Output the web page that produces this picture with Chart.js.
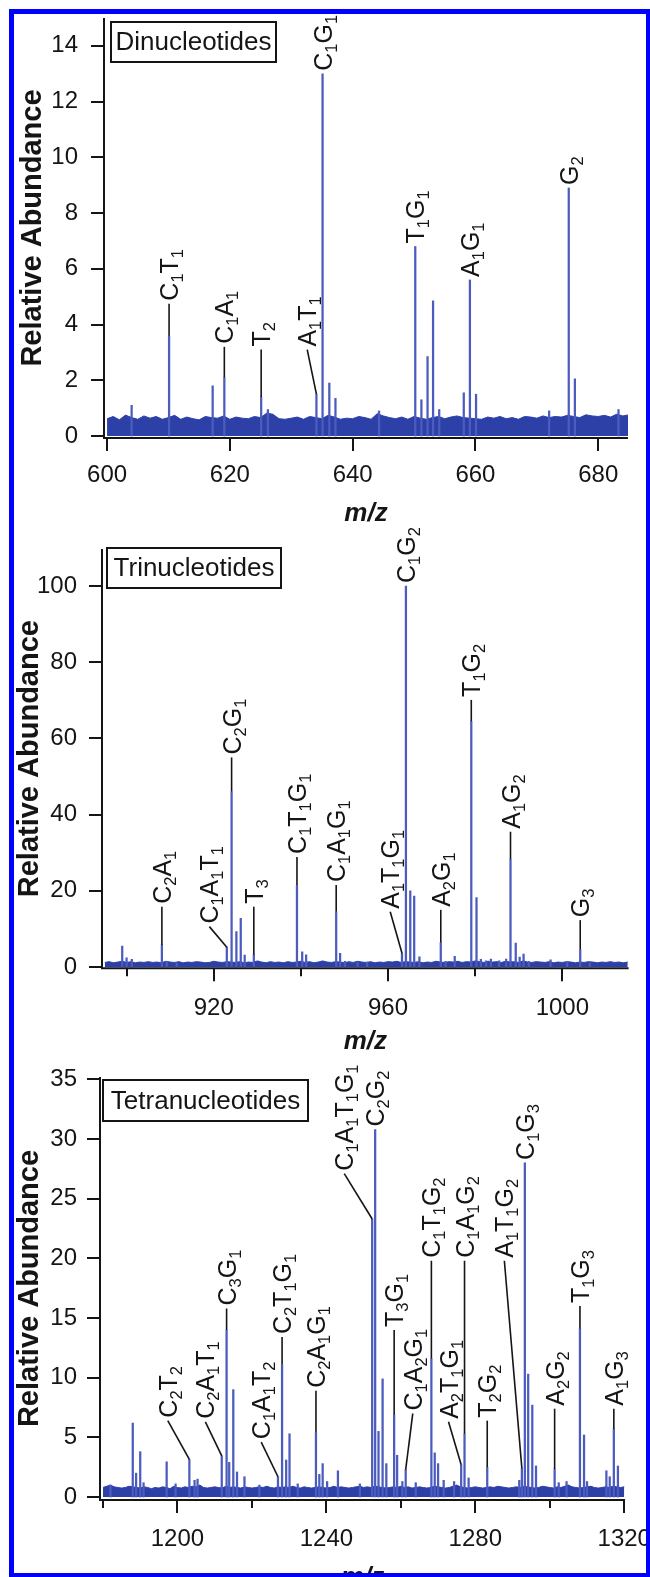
<!DOCTYPE html>
<html>
<head>
<meta charset="utf-8">
<script src="https://cdn.jsdelivr.net/npm/chart.js@4.4.1/dist/chart.umd.min.js"></script>
<style>
    body { margin: 0; width: 650px; height: 1577px; overflow: hidden; background: #fff; position: relative; }
    canvas { position: absolute; left: 0; top: 0; }
    #frame { position: absolute; left: 9px; top: 9px; width: 642px; height: 1569px; box-sizing: border-box; border: 5px solid #0000ff; z-index: 5; }
</style>
</head>
<body>
<canvas id="chart1" width="650" height="1620"></canvas>
<canvas id="chart2" width="650" height="1620"></canvas>
<canvas id="chart3" width="650" height="1620"></canvas>
<div id="frame"></div>
<script>
// ---- Dinucleotides ----
const peaks1Mz = [604.0, 610.1, 617.2, 619.1, 625.1, 626.2, 634.1, 635.1, 636.2, 637.2, 644.3, 650.2, 651.2, 652.2, 653.1, 654.1, 658.1, 659.1, 660.1, 672.0, 675.2, 676.2, 683.3];
const peaks1H = [1.1, 3.6, 1.8, 2.1, 1.4, 0.95, 1.5, 13.0, 1.9, 1.35, 0.9, 6.8, 1.3, 2.85, 4.85, 0.95, 1.55, 5.6, 1.5, 0.9, 8.9, 2.05, 0.95];
const noise1Start = 600;
const noise1 = [
    0.62, 0.7, 0.58, 0.75, 0.66, 0.6, 0.72, 0.64, 0.7, 0.6,
    0.66, 0.74, 0.6, 0.68, 0.62, 0.58, 0.7, 0.66, 0.64, 0.72,
    0.6, 0.68, 0.64, 0.62, 0.7, 0.66, 0.82, 0.78, 0.62, 0.6,
    0.64, 0.68, 0.6, 0.7, 0.66, 0.62, 0.74, 0.68, 0.6, 0.64,
    0.62, 0.7, 0.66, 0.6, 0.8, 0.72, 0.66, 0.62, 0.68, 0.6,
    0.7, 0.64, 0.6, 0.66, 0.7, 0.62, 0.68, 0.72, 0.66, 0.64,
    0.62, 0.6, 0.68, 0.64, 0.7, 0.62, 0.66, 0.6, 0.7, 0.68,
    0.64, 0.72, 0.66, 0.7, 0.68, 0.74, 0.7, 0.66, 0.76, 0.72,
    0.7, 0.74, 0.68, 0.78, 0.72, 0.76
];
const lab1Text = ['C1T1', 'C1A1', 'T2', 'A1T1', 'C1G1', 'T1G1', 'A1G1', 'G2'];
const lab1Mz = [610.1, 619.1, 625.1, 634.1, 635.1, 650.2, 659.1, 675.2];
const lab1TopMz = [610.1, 619.1, 625.1, 632.6, 635.1, 650.2, 659.1, 675.2];
const lab1TopY = [4.75, 3.2, 3.1, 3.1, 13.0, 6.8, 5.6, 8.9];

// ---- Trinucleotides ----
const peaks2Mz = [899.0, 900.0, 901.2, 908.1, 909.2, 911.5, 923.0, 924.1, 925.2, 926.2, 927.1, 929.2, 939.1, 940.3, 941.2, 948.1, 949.0, 950.1, 953.0, 955.2,
    963.2, 964.1, 965.1, 966.0, 967.2, 972.1, 973.2, 975.3, 979.1, 980.3, 981.3, 982.5, 983.6, 985.5, 987.1, 988.1, 989.3, 990.2, 991.1, 992.3, 997.3, 1001.1, 1004.1, 1006.3];
const peaks2H = [5.5, 2.4, 2.0, 5.8, 1.5, 1.0, 5.2, 46.0, 9.3, 12.8, 3.1, 3.3, 21.5, 4.0, 3.2, 14.5, 3.6, 1.5, 1.2, 1.3,
    3.6, 100, 20.0, 18.6, 2.7, 6.4, 1.5, 2.8, 64.5, 18.2, 2.0, 1.6, 2.1, 1.6, 2.1, 28.2, 6.3, 2.6, 3.4, 1.5, 1.9, 1.5, 4.6, 1.1];
const noise2Start = 895;
const noise2 = [
    1.2, 1.4, 1.1, 1.3, 1.5, 1.2, 1.4, 1.1, 1.3, 1.2,
    1.4, 1.2, 1.3, 1.1, 1.5, 1.3, 1.2, 1.4, 1.1, 1.3,
    1.2, 1.4, 1.3, 1.1, 1.2, 1.5, 1.3, 1.2, 1.4, 1.3,
    1.2, 1.4, 1.1, 1.3, 1.2, 1.6, 1.3, 1.1, 1.4, 1.2,
    1.3, 1.1, 1.4, 1.2, 1.3, 1.5, 1.2, 1.4, 1.1, 1.3,
    1.6, 1.3, 1.2, 1.4, 1.3, 1.1, 1.4, 1.2, 1.5, 1.3,
    1.2, 1.4, 1.1, 1.3, 1.2, 1.4, 1.3, 1.5, 1.2, 1.4,
    1.3, 1.2, 1.4, 1.1, 1.3, 1.2, 1.5, 1.3, 1.2, 1.4,
    1.3, 1.5, 1.2, 1.4, 1.3, 1.6, 1.4, 1.2, 1.5, 1.3,
    1.4, 1.2, 1.5, 1.3, 1.4, 1.2, 1.6, 1.3, 1.2, 1.4,
    1.3, 1.2, 1.4, 1.1, 1.3, 1.2, 1.4, 1.3, 1.1, 1.3,
    1.2, 1.4, 1.3, 1.1, 1.3, 1.2, 1.4, 1.2, 1.3, 1.1,
    1.3
];
const lab2Text = ['C2A1', 'C1A1T1', 'C2G1', 'T3', 'C1T1G1', 'C1A1G1', 'A1T1G1', 'C1G2', 'A2G1', 'T1G2', 'A1G2', 'G3'];
const lab2Mz = [908.1, 923.0, 924.1, 929.2, 939.1, 948.1, 963.2, 964.1, 972.1, 979.1, 988.1, 1004.1];
const lab2TopMz = [908.1, 919.0, 924.1, 929.2, 939.1, 948.1, 960.5, 964.1, 972.1, 979.1, 988.1, 1004.1];
const lab2TopY = [15.8, 10.6, 55, 15.8, 28.9, 21.5, 14.5, 100, 15.0, 70.1, 35.5, 12.3];

// ---- Tetranucleotides ----
const peaks3Mz = [1182.0, 1188.0, 1188.9, 1190.0, 1190.9, 1197.1, 1199.5, 1203.2, 1204.6, 1205.4, 1211.9, 1213.2, 1213.9, 1215.0, 1216.0, 1218.0, 1222.0,
    1227.0, 1228.1, 1229.2, 1230.1, 1232.3, 1237.2, 1238.1, 1239.0, 1240.2, 1243.1, 1249.0, 1252.3, 1253.1, 1254.0, 1255.1, 1256.1, 1258.2, 1259.0,
    1260.4, 1261.3, 1264.0, 1268.2, 1269.1, 1270.0, 1271.5, 1274.3, 1276.2, 1277.1, 1278.2, 1283.2, 1291.8, 1292.5, 1293.3, 1294.2, 1295.3, 1296.3,
    1301.3, 1302.4, 1304.5, 1308.1, 1309.2, 1310.0, 1315.2, 1316.1, 1317.2, 1318.3];
const peaks3H = [1.0, 6.2, 2.0, 3.8, 1.2, 2.95, 1.1, 3.15, 1.4, 1.5, 3.45, 14.0, 2.9, 9.0, 2.1, 1.7, 1.0,
    1.7, 11.1, 3.1, 5.3, 1.1, 5.4, 1.9, 2.8, 1.3, 2.2, 1.1, 23.3, 30.8, 5.5, 9.9, 2.8, 6.9, 3.5,
    1.3, 2.3, 1.2, 11.6, 3.7, 2.8, 1.4, 1.3, 2.7, 5.3, 1.6, 2.5, 1.4, 2.4, 28.0, 10.3, 7.7, 2.6,
    2.35, 1.2, 1.3, 14.1, 5.2, 1.3, 2.2, 1.7, 5.7, 2.6];
const noise3Start = 1180;
const noise3 = [
    0.8, 0.9, 1.0, 0.85, 0.8, 0.75, 0.8, 0.9, 0.85, 0.8,
    0.75, 0.85, 0.8, 0.7, 0.8, 0.75, 0.85, 0.8, 0.7, 0.9,
    0.8, 0.75, 0.85, 0.8, 0.9, 0.85, 1.0, 0.8, 0.75, 0.8,
    0.85, 0.8, 0.75, 0.9, 0.8, 0.85, 0.8, 0.75, 0.85, 0.8,
    0.75, 0.8, 0.85, 0.8, 0.9, 0.8, 0.75, 0.85, 0.8, 0.85,
    0.8, 0.9, 0.8, 0.75, 0.85, 0.8, 0.75, 0.8, 0.85, 0.8,
    0.75, 0.8, 0.9, 0.8, 0.85, 0.8, 0.75, 0.8, 0.85, 0.9,
    0.8, 0.85, 0.8, 0.9, 0.85, 0.8, 0.75, 0.8, 0.85, 0.8,
    0.9, 0.8, 0.85, 0.75, 0.8, 0.85, 0.8, 0.75, 0.8, 0.9,
    0.85, 0.8, 0.75, 0.8, 0.9, 1.0, 0.85, 0.8, 0.75, 0.8,
    0.85, 0.8, 0.75, 0.8, 0.85, 0.8, 0.9, 0.85, 0.8, 0.75,
    0.8, 0.85, 0.8, 0.9, 0.85, 0.8, 0.75, 0.8, 0.9, 0.85,
    0.8, 0.75, 0.85, 0.8, 0.9, 1.0, 0.85, 0.8, 0.75, 0.8,
    0.85, 0.9, 0.8, 0.75, 0.8, 0.85, 0.8, 0.9, 0.85, 0.8,
    0.85
];
const lab3Text = ['C2T2', 'C2A1T1', 'C3G1', 'C1A1T2', 'C2T1G1', 'C2A1G1', 'C1A1T1G1', 'C2G2', 'T3G1', 'C1A2G1', 'C1T1G2', 'A2T1G1', 'C1A1G2', 'T2G2', 'A1T1G2', 'C1G3', 'A2G2', 'T1G3', 'A1G3'];
const lab3Mz = [1203.2, 1211.9, 1213.2, 1227.0, 1228.1, 1237.2, 1252.3, 1253.1, 1258.2, 1261.3, 1268.2, 1276.2, 1277.1, 1283.2, 1292.5, 1293.3, 1301.3, 1308.1, 1317.2];
const lab3TopMz = [1197.4, 1207.5, 1213.2, 1222.5, 1228.1, 1237.2, 1244.8, 1253.1, 1258.2, 1263.2, 1268.2, 1272.8, 1277.1, 1283.2, 1287.8, 1293.3, 1301.3, 1308.1, 1317.2];
const lab3TopY = [6.4, 6.3, 15.8, 4.6, 13.4, 8.9, 27.1, 30.8, 14.0, 7.0, 19.8, 6.3, 19.8, 6.4, 19.8, 28.0, 7.4, 16.0, 7.4];

const FONT = '"Liberation Sans", Arial, sans-serif';
const INK = '#151515';
const PEAK_COLOR = '#4c5cbe';
const NOISE_COLOR = '#2c40a8';
const CANVAS_H = 1620;

// draws a formula like C1A1T1 rotated, digits as subscripts
function drawFormula(ctx, text, px, py, size) {
    ctx.save();
    ctx.translate(px, py);
    ctx.rotate(-Math.PI / 2);
    ctx.fillStyle = INK;
    ctx.textAlign = 'left';
    ctx.textBaseline = 'alphabetic';
    const base = size * 0.36;
    let cx = 0;
    for (const ch of text) {
        const sub = /\d/.test(ch);
        ctx.font = (sub ? size * 0.66 : size) + 'px ' + FONT;
        ctx.fillText(ch, cx, sub ? base + size * 0.2 : base);
        cx += ctx.measureText(ch).width;
    }
    ctx.restore();
}

const spectrumDecor = {
    id: 'spectrumDecor',
    afterDraw(chart, args, opts) {
        const { ctx, chartArea: a, scales: { x, y } } = chart;
        ctx.save();
        ctx.strokeStyle = INK;
        ctx.lineWidth = 2;
        ctx.beginPath();
        ctx.moveTo(a.left, a.top);
        ctx.lineTo(a.left, a.bottom);
        ctx.lineTo(a.right, a.bottom);
        y.ticks.forEach(t => {
            const py = Math.round(y.getPixelForValue(t.value));
            ctx.moveTo(a.left - 13, py);
            ctx.lineTo(a.left, py);
        });
        x.ticks.forEach(t => {
            const px = Math.round(x.getPixelForValue(t.value));
            ctx.moveTo(px, a.bottom);
            ctx.lineTo(px, a.bottom + (t.label === '' ? 8 : 13));
        });
        ctx.stroke();

        // name box
        const b = opts.box;
        ctx.strokeRect(b.x, b.y, b.w, b.h);
        ctx.fillStyle = INK;
        ctx.font = '26px ' + FONT;
        ctx.textAlign = 'center';
        ctx.textBaseline = 'middle';
        ctx.fillText(b.text, b.x + b.w / 2, b.y + b.h / 2 + 1);

        // peak labels with leader lines
        ctx.lineWidth = 1.6;
        opts.text.forEach((label, i) => {
            const k = opts.peaksMz.indexOf(opts.mz[i]);
            const h = opts.peaksH[k];
            const x0 = x.getPixelForValue(opts.mz[i]);
            const y0 = y.getPixelForValue(h);
            const x1 = x.getPixelForValue(opts.topMz[i]);
            const y1 = y.getPixelForValue(opts.topY[i]);
            if (y0 - y1 > 1) {
                ctx.beginPath();
                ctx.moveTo(x0, y0);
                ctx.lineTo(x1, y1);
                ctx.stroke();
            }
            drawFormula(ctx, label, x1, y1 - 3, 25);
        });
        ctx.restore();
    }
};

function makePanel(id, p) {
    const yWidth = 90;
    const titleLH = 29 * 1.2;
    const mzLH = 26 * 1.2;
    const xHeight = p.mzY - p.area.bottom + mzLH / 2;
    new Chart(document.getElementById(id), {
        type: 'line',
        data: {
            datasets: [{
                type: 'bar',
                data: p.peaksMz.map((m, i) => ({ x: m, y: p.peaksH[i] })),
                backgroundColor: PEAK_COLOR,
                barThickness: 1.6,
                borderWidth: 0,
                order: 1
            }, {
                type: 'line',
                data: p.noise.map((v, i) => ({ x: p.noiseStart + i, y: v })),
                borderColor: NOISE_COLOR,
                backgroundColor: NOISE_COLOR,
                borderWidth: 1,
                pointRadius: 0,
                tension: 0,
                fill: 'origin',
                order: 2
            }]
        },
        options: {
            responsive: false,
            animation: false,
            devicePixelRatio: 1,
            events: [],
            layout: {
                padding: {
                    left: p.area.left - yWidth,
                    top: p.area.top,
                    right: 650 - p.area.right,
                    bottom: CANVAS_H - p.area.bottom - xHeight
                }
            },
            plugins: {
                legend: { display: false },
                tooltip: { enabled: false },
                spectrumDecor: {
                    box: p.box,
                    text: p.labText, mz: p.labMz, topMz: p.labTopMz, topY: p.labTopY,
                    peaksMz: p.peaksMz, peaksH: p.peaksH
                }
            },
            scales: {
                x: {
                    type: 'linear',
                    min: p.xMin, max: p.xMax,
                    offset: false,
                    grid: { display: false, offset: false, drawTicks: true, tickLength: 13 },
                    border: { display: false },
                    ticks: {
                        stepSize: 20,
                        includeBounds: false,
                        maxRotation: 0,
                        autoSkip: false,
                        padding: p.xPad,
                        color: INK,
                        font: { family: FONT, size: 24 },
                        callback: v => (v % p.labelEvery === 0 ? String(v) : '')
                    },
                    title: {
                        display: true, text: 'm/z', color: INK,
                        font: { family: FONT, size: 26, weight: 'bold', style: 'italic', lineHeight: 1.2 },
                        padding: { top: 0, bottom: 0 }
                    },
                    afterFit: s => {
                        s.height = xHeight;
                        s.paddingLeft = 0;
                        s.paddingRight = 0;
                    }
                },
                y: {
                    min: p.yMin, max: p.yMax,
                    grid: { display: false, drawTicks: true, tickLength: 13 },
                    border: { display: false },
                    ticks: {
                        stepSize: p.yStep,
                        includeBounds: false,
                        padding: p.yPad,
                        color: INK,
                        font: { family: FONT, size: 24 }
                    },
                    title: {
                        display: true, text: 'Relative Abundance', color: INK,
                        font: { family: FONT, size: 29, weight: 'bold', lineHeight: 1.2 },
                        padding: { top: p.titleX - (p.area.left - yWidth) - titleLH / 2, bottom: 0 }
                    },
                    afterFit: s => {
                        s.width = yWidth;
                        s.paddingTop = 0;
                        s.paddingBottom = 0;
                    }
                }
            }
        },
        plugins: [spectrumDecor]
    });
}

makePanel('chart1', {
    area: { left: 104, right: 628, top: 18, bottom: 438 },
    xMin: 599.5, xMax: 684.85, yMin: -0.072, yMax: 15.0, yStep: 2, labelEvery: 20,
    xPad: 10, yPad: 13, titleX: 33, mzY: 514,
    box: { x: 111, y: 22, w: 165, h: 40, text: 'Dinucleotides' },
    peaksMz: peaks1Mz, peaksH: peaks1H, noise: noise1, noiseStart: noise1Start,
    labText: lab1Text, labMz: lab1Mz, labTopMz: lab1TopMz, labTopY: lab1TopY
});

makePanel('chart2', {
    area: { left: 102, right: 628.6, top: 549, bottom: 968.3 },
    xMin: 894.36, xMax: 1015.2, yMin: -0.34, yMax: 109.7, yStep: 20, labelEvery: 40,
    xPad: 13, yPad: 12, titleX: 30, mzY: 1042,
    box: { x: 107, y: 548, w: 174, h: 40, text: 'Trinucleotides' },
    peaksMz: peaks2Mz, peaksH: peaks2H, noise: noise2, noiseStart: noise2Start,
    labText: lab2Text, labMz: lab2Mz, labTopMz: lab2TopMz, labTopY: lab2TopY
});

makePanel('chart3', {
    area: { left: 100, right: 625, top: 1077, bottom: 1500 },
    xMin: 1179.2, xMax: 1320.2, yMin: -0.25, yMax: 35.2, yStep: 5, labelEvery: 40,
    xPad: 12, yPad: 10, titleX: 30, mzY: 1578,
    box: { x: 103, y: 1080, w: 205, h: 41, text: 'Tetranucleotides' },
    peaksMz: peaks3Mz, peaksH: peaks3H, noise: noise3, noiseStart: noise3Start,
    labText: lab3Text, labMz: lab3Mz, labTopMz: lab3TopMz, labTopY: lab3TopY
});
</script>
</body>
</html>
